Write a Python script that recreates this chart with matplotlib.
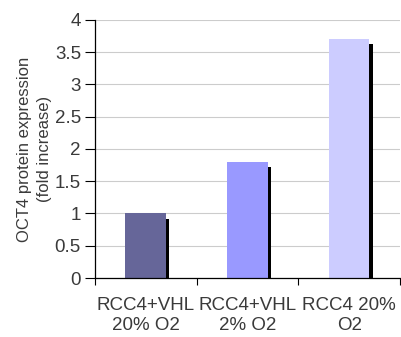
import matplotlib
matplotlib.use("Agg")
import matplotlib.pyplot as plt

categories = ["RCC4+VHL\n20% O2", "RCC4+VHL\n2% O2", "RCC4 20%\nO2"]
values = [1.0, 1.8, 3.7]
colors = ["#666699", "#9999FF", "#CCCCFF"]
yticks = [0, 0.5, 1, 1.5, 2, 2.5, 3, 3.5, 4]
ytick_labels = ["0", "0.5", "1", "1.5", "2", "2.5", "3", "3.5", "4"]

plt.rcParams["font.family"] = ["Liberation Sans", "DejaVu Sans"]
text_color = "#3a3a3a"

fig = plt.figure(figsize=(4.02, 3.37), dpi=100)
ax = fig.add_axes([0.236, 0.175, 0.759, 0.766])

width = 0.40
x = list(range(len(values)))
# drop shadow: black bar shifted right and down
shadow_dx = 0.03
shadow_dy = 0.078
ax.bar([i + shadow_dx for i in x], [v - shadow_dy for v in values], width=width,
       color="black", zorder=2)
ax.bar(x, values, width=width, color=colors, zorder=3)

ax.set_xlim(-0.5, 2.5)
ax.set_ylim(0, 4)
ax.set_yticks(yticks)
ax.set_yticklabels(ytick_labels)
ax.set_xticks([-0.5, 0.5, 1.5, 2.5])
ax.set_xticklabels([])
ax.set_xticks(x, minor=True)
ax.set_xticklabels(categories, minor=True, linespacing=1.2)
ax.tick_params(axis="x", which="minor", length=0, pad=14, labelsize=13.5, colors=text_color)
ax.tick_params(axis="x", which="major", length=5, direction="out", width=0.8)
ax.tick_params(axis="y", length=7, direction="out", width=0.8, labelsize=13.5,
               labelcolor=text_color, pad=3)

ax.grid(axis="y", color="#cccccc", linewidth=0.8, zorder=0)
ax.set_axisbelow(True)
for side in ("top", "right"):
    ax.spines[side].set_visible(False)
for side in ("left", "bottom"):
    ax.spines[side].set_linewidth(0.9)
    ax.spines[side].set_zorder(4)

ax.set_ylabel("OCT4 protein expression\n(fold increase)", fontsize=12,
              color=text_color, labelpad=2, linespacing=1.45)

fig.savefig("out.png", dpi=100)
